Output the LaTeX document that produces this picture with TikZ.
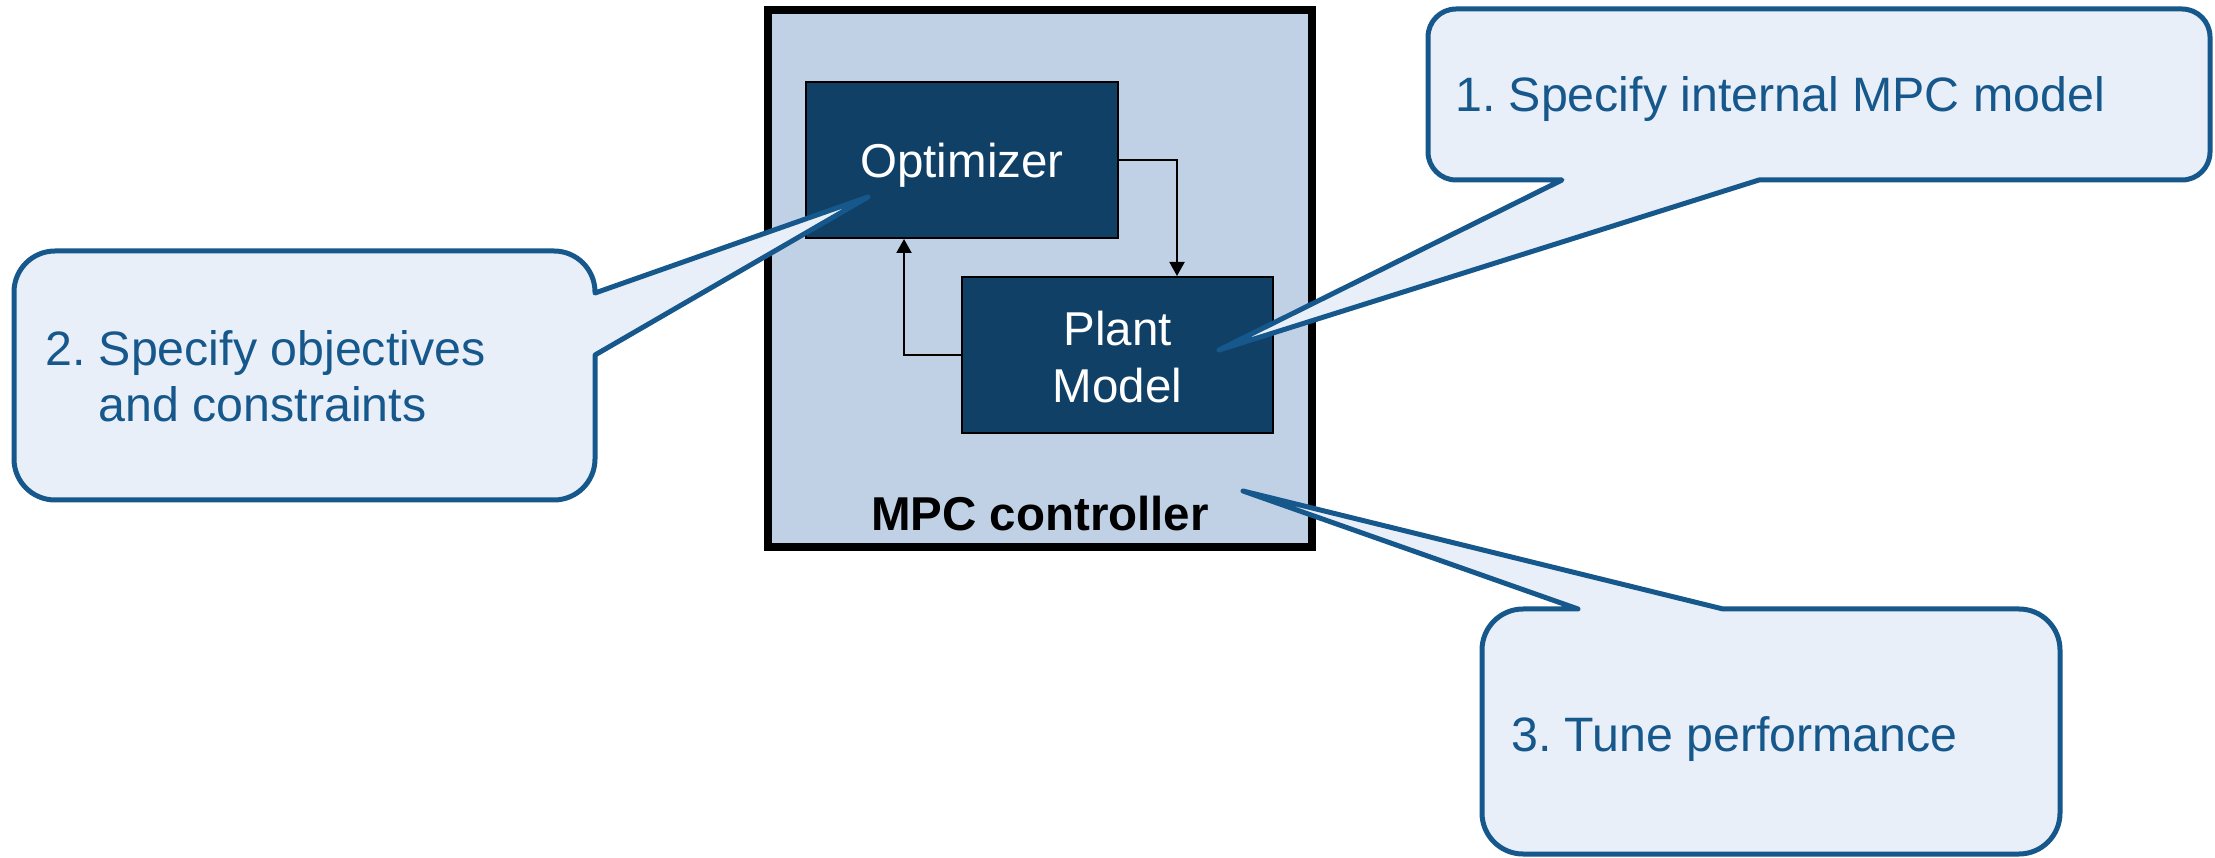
\documentclass[tikz,border=0pt]{standalone}
\usepackage{fontspec}
\setmainfont{Liberation Sans}
\usetikzlibrary{arrows.meta}

\definecolor{ctrlfill}{RGB}{192,209,230}
\definecolor{blockfill}{RGB}{16,64,101}
\definecolor{notefill}{RGB}{233,239,248}
\definecolor{noteline}{RGB}{22,88,140}

\begin{document}
\frenchspacing
\begin{tikzpicture}[x=1pt,y=1pt,
  font=\fontsize{47.5}{57}\selectfont,
  controller/.style={rectangle, draw=black, line width=8pt, fill=ctrlfill, inner sep=0pt},
  block/.style={rectangle, draw=black, line width=2pt, fill=blockfill, inner sep=0pt},
  blocktext/.style={text=white, inner sep=0pt},
  flow/.style={draw=black, line width=2pt, -{Triangle[width=15pt,length=14pt]}},
  note/.style={draw=noteline, fill=notefill, line width=5pt, line join=round},
  notetext/.style={text=noteline, inner sep=0pt, font=\fontsize{48.3}{56}\selectfont}
]
\useasboundingbox (0,0) rectangle (2215,857);

% controller frame and its two blocks
\node[controller, minimum width=544pt, minimum height=537pt] (ctrl) at (1040,578.5) {};
\node[block, minimum width=312pt, minimum height=156pt] (opt) at (962,697) {};
\node[block, minimum width=311pt, minimum height=156pt] (plant) at (1117.5,502) {};

\node[blocktext, anchor=base] (optlabel) at ([yshift=-18pt]opt.center) {Optimizer};
\node[blocktext, align=center] (plantlabel) at ([yshift=-2pt]plant.center) {Plant\\Model};
\node[anchor=base, inner sep=0pt, font=\fontsize{47.5}{57}\selectfont\bfseries] (ctrllabel)
  at ([yshift=20pt]ctrl.south) {MPC controller};

% signal loop between optimizer and plant model
\draw[flow] (opt.east) -| ([xshift=59.5pt]plant.north);
\draw[flow] (plant.west) -| ([xshift=-58pt]opt.south);

% callout tips
\coordinate (tip1) at (1219,507);
\coordinate (tip2) at (868,660);
\coordinate (tip3) at (1243,366);

% callout 1: internal model
\draw[note] (1562,677) -- (tip1) -- (1759,677) -- (2182,677)
  arc[start angle=270, end angle=360, radius=28] -- (2210,820)
  arc[start angle=0, end angle=90, radius=28] -- (1456,848)
  arc[start angle=90, end angle=180, radius=28] -- (1428,705)
  arc[start angle=180, end angle=270, radius=28] -- cycle;

% callout 2: objectives and constraints
\draw[note] (595,564) -- (tip2) -- (595,502) -- (595,398)
  arc[start angle=0, end angle=-90, radius=41] -- (55,357)
  arc[start angle=270, end angle=180, radius=41] -- (14,565)
  arc[start angle=180, end angle=90, radius=41] -- (554,606)
  arc[start angle=90, end angle=0, radius=41] -- cycle;

% callout 3: tuning
\draw[note] (1723,248) -- (tip3) -- (1578,248) -- (1523,248)
  arc[start angle=90, end angle=180, radius=41] -- (1482,44)
  arc[start angle=180, end angle=270, radius=41] -- (2019,3)
  arc[start angle=270, end angle=360, radius=41] -- (2060,207)
  arc[start angle=0, end angle=90, radius=41] -- cycle;

% callout texts (a multi-line node sits on the baseline of its last line)
\node[notetext, anchor=base west] (note1) at (1455,745) {1. Specify internal MPC model};
\node[notetext, anchor=base west, align=left] (note2) at (45,435)
  {2. Specify objectives\\\phantom{2. }and constraints};
\node[notetext, anchor=base west] (note3) at (1511,106) {3. Tune performance};
\end{tikzpicture}
\end{document}
